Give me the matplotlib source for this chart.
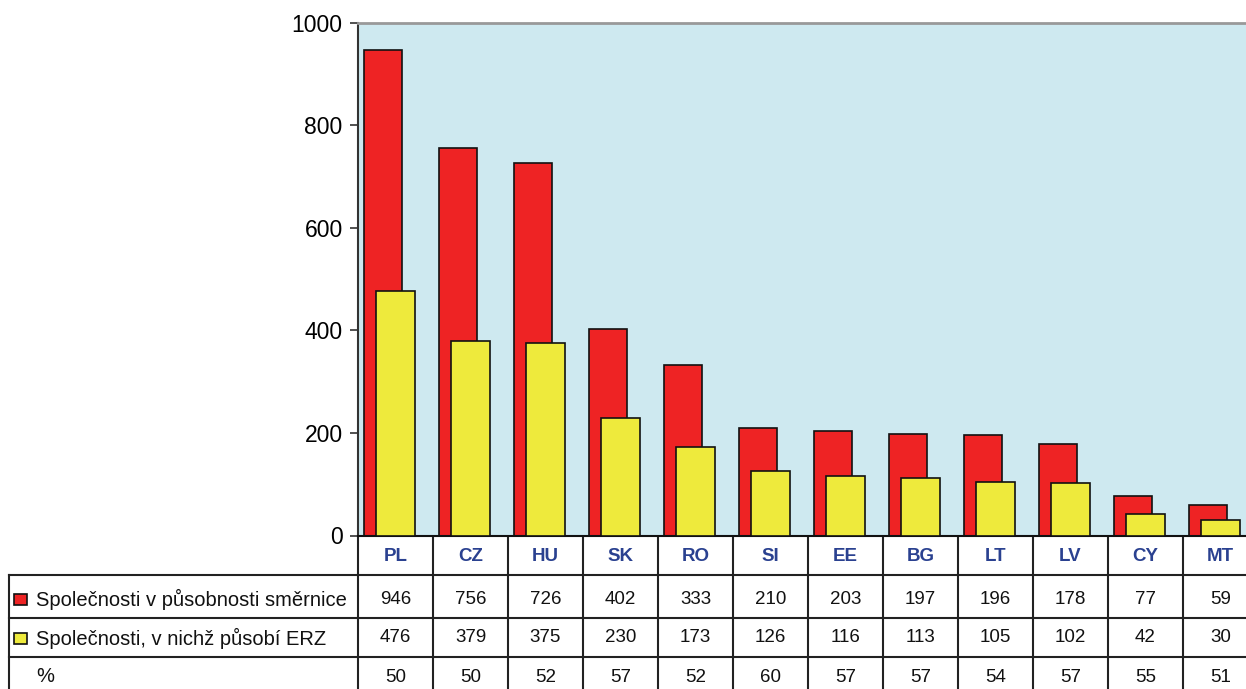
import matplotlib
matplotlib.use("Agg")
import matplotlib.pyplot as plt
from matplotlib.transforms import blended_transform_factory
from matplotlib.patches import Rectangle

plt.rcParams['font.family'] = ['Liberation Sans', 'DejaVu Sans']

countries = ["PL", "CZ", "HU", "SK", "RO", "SI", "EE", "BG", "LT", "LV", "CY", "MT"]
directive = [946, 756, 726, 402, 333, 210, 203, 197, 196, 178, 77, 59]
erz = [476, 379, 375, 230, 173, 126, 116, 113, 105, 102, 42, 30]
percent = [50, 50, 52, 57, 52, 60, 57, 57, 54, 57, 55, 51]
row_labels = ["Společnosti v působnosti směrnice", "Společnosti, v nichž působí ERZ", "%"]
yticks = [0, 200, 400, 600, 800, 1000]

RED = "#ee2324"
YELLOW = "#eeea3c"
BG = "#cee9f0"
BLUE = "#2a4190"

W, H = 1246, 689
fig = plt.figure(figsize=(W / 100, H / 100), dpi=100)

# pixel overlay axes for table
tax = fig.add_axes([0, 0, 1, 1], zorder=0)
tax.set_xlim(0, W)
tax.set_ylim(H, 0)
tax.axis("off")

ax_left, ax_right, ax_top, ax_bot = 358, 1258, 22.5, 535.5
ax = fig.add_axes([ax_left / W, (H - ax_bot) / H, (ax_right - ax_left) / W, (ax_bot - ax_top) / H], zorder=2)
ax.set_facecolor(BG)
n = len(countries)
xs = list(range(n))
bw = 0.507
ax.bar([x - 0.17 for x in xs], directive, width=bw, color=RED, edgecolor="#111111", linewidth=1.2, zorder=2)
ax.bar(xs, erz, width=bw, color=YELLOW, edgecolor="#111111", linewidth=1.2, zorder=3)
ax.set_xlim(-0.5, n - 0.5)
ax.set_ylim(0, 1000)
ax.set_yticks(yticks)
ax.set_yticklabels([str(v) for v in yticks], fontsize=16.5)
ax.set_xticks([])
ax.tick_params(axis="y", direction="out", length=6, width=1.2, color="#333333", pad=5)
ax.spines["left"].set_color("#333333")
ax.spines["left"].set_linewidth(1.5)
ax.spines["top"].set_color("#999999")
ax.spines["top"].set_linewidth(2)
ax.spines["bottom"].set_color("#111111")
ax.spines["bottom"].set_linewidth(1.5)
ax.spines["right"].set_visible(False)

# table
tr = blended_transform_factory(ax.transData, tax.transData)
lc = "#222222"
lw = 1.5
row_lines = [575, 617.5, 657]
row_centers = [599, 638, 677]
for x in range(n + 1):
    tax.plot([x - 0.5, x - 0.5], [ax_bot, H], color=lc, lw=lw, transform=tr, clip_on=False)
for y in row_lines:
    tax.plot([8.5, W], [y, y], color=lc, lw=lw, clip_on=False)
tax.plot([8.5, 8.5], [row_lines[0], H], color=lc, lw=lw)

for i, c in enumerate(countries):
    tax.text(i, 556.5, c, transform=tr, ha="center", va="center", fontsize=13.5,
             fontweight="bold", color=BLUE)
for r, vals in enumerate([directive, erz, percent]):
    for i, v in enumerate(vals):
        tax.text(i, row_centers[r], str(v), transform=tr, ha="center", va="center",
                 fontsize=13.5, color="#111111")
    tax.text(36.5, row_centers[r], row_labels[r], ha="left", va="center", fontsize=14.5,
             color="#111111")
for r, col in enumerate([RED, YELLOW]):
    tax.add_patch(Rectangle((14, row_centers[r] - 5.5), 13, 11, facecolor=col,
                            edgecolor="#111111", lw=1.2))

fig.savefig("out.png", dpi=100)
